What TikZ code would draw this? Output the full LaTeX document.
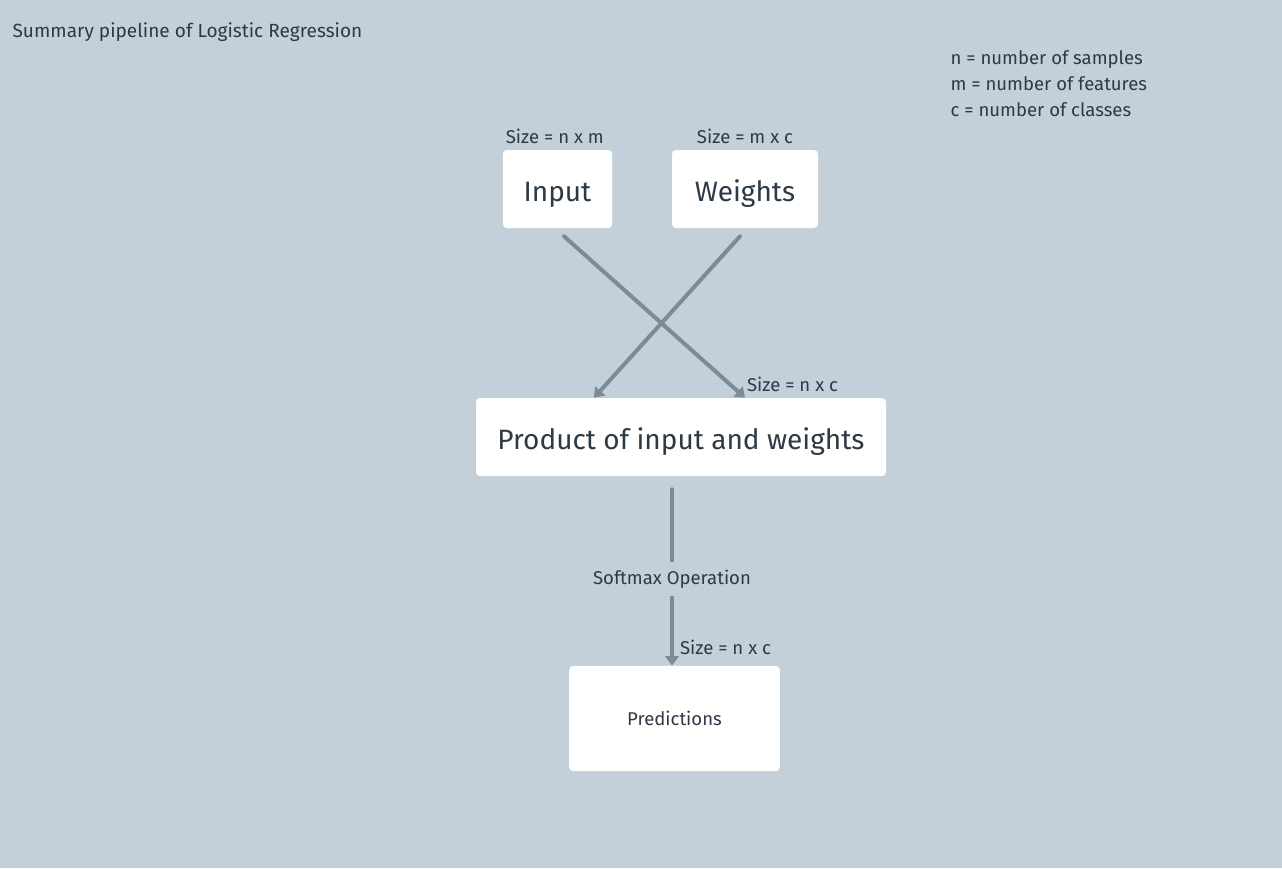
\documentclass[tikz,border=0pt]{standalone}
\usepackage{fontspec}
\setmainfont{Fira Sans}
\usetikzlibrary{positioning, arrows.meta, calc}

\definecolor{bgblue}{HTML}{C4D0D9}
\definecolor{ink}{HTML}{2D3A46}
\definecolor{wire}{HTML}{7D8B98}

\begin{document}
\begin{tikzpicture}[
    x=0.75pt, y=-0.75pt,
    font=\fontsize{13.9}{16}\selectfont, text=ink,
    card/.style={fill=white, rounded corners=3pt, inner sep=0pt, align=center},
    big/.style={font=\fontsize{21}{25}\selectfont, text height=18pt, text depth=0pt},
    note/.style={inner sep=1pt, text=ink},
    arrow/.style={-{Triangle[length=7pt, width=10pt]}, line width=3pt, wire, line cap=round},
    node distance=4pt,
]

% background / canvas
\fill[bgblue] (0,0) rectangle (1282,868);
\useasboundingbox (0,0) rectangle (1282,868);

% --- TITLE + LEGEND ---
\node[note, anchor=west, font=\fontsize{14.3}{16}\selectfont] (title) at (11,32) {Summary pipeline of Logistic Regression};
\node[note, anchor=north west, align=left, font=\fontsize{13.9}{19.5}\selectfont] (legend) at (949,49) {
    n = number of samples\\
    m = number of features\\
    c = number of classes
};

% --- INPUT + WEIGHTS ---
\node[card, big, minimum width=82pt, minimum height=58.5pt] (input) at (557.5,189) {Input};
\node[card, big, minimum width=109.5pt, minimum height=58.5pt] (weights) at (745,189) {Weights};
\node[note, above=3.5pt of input, xshift=-2pt] (insize) {Size = n x m};
\node[note, above=3.5pt of weights] (wsize) {Size = m x c};

% --- PRODUCT ---
\node[card, big, minimum width=307.5pt, minimum height=58.5pt] (prod) at (681,437) {Product of input and weights};

% --- PREDICTIONS ---
\node[card, minimum width=158pt, minimum height=79pt] (pred) at (674.5,718.5) {Predictions};

% Arrows crossing into the product box
\draw[arrow] ($(input.south)+(6.5,8)$) -- ($(prod.north)+(64,0)$)
    node[note, pos=1, anchor=south west, inner sep=0pt, yshift=2.8pt] (psize) {Size = n x c};
\draw[arrow] ($(weights.south)+(-5,8)$) -- ($(prod.north)+(-87,0)$);

% Softmax step down to predictions
\draw[arrow] ($(prod.south)+(-9,13)$) --
    node[note, fill=bgblue, inner xsep=0pt, inner ysep=6pt, yshift=-1pt] (softmax) {Softmax Operation}
    ($(pred.north)+(-2.5,0)$)
    node[note, pos=1, anchor=south west, inner sep=0pt, xshift=4.5pt, yshift=7pt] (outsize) {Size = n x c};

\end{tikzpicture}
\end{document}
